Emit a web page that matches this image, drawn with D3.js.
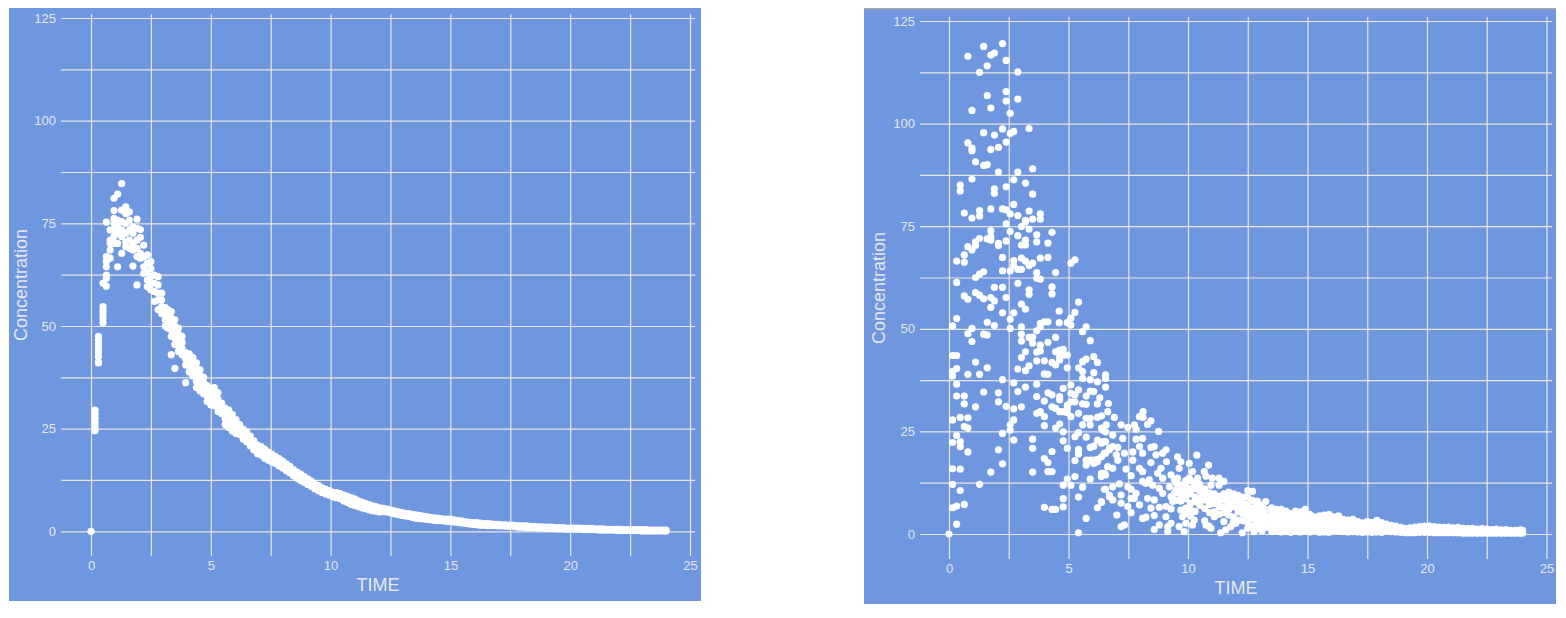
<!DOCTYPE html>
<html><head><meta charset="utf-8">
<style>html,body{margin:0;padding:0;background:#fff}svg{display:block}text{font-family:"Liberation Sans",Arial,sans-serif}</style>
<script src="https://cdn.jsdelivr.net/npm/d3@7"></script></head><body>
<script>
const xGrid=[0,2.5,5,7.5,10,12.5,15,17.5,20,22.5,25];
const yGrid=[0,12.5,25,37.5,50,62.5,75,87.5,100,112.5,125];
const xTitle="TIME", yTitle="Concentration";

// left panel: [time, concentrations read at that time]
const leftColumns=[[0,[0]],[.17,[29.5,28.5,27.5,26.5,25.5,24.5]],[.31,[47.5,46.5,45.5,44.5,43.5,42.5,41.2,41]],
[.5,[60.4,54.7,53.8,53,52,50.8]],[.64,[75.3,66.9,65.7,64.4,62.4,61.6,59.7]],[.8,[73.4,70.9,70.1,68.5,66.5]],
[.96,[81.1,78.1,76.2,75,73.4,71.8,70.1]],[1.11,[82.1,75.8,74.2,72.6,70.1,64.4]],[1.28,[84.7,78.2,75.4,73.4,71.8,67.7]],
[1.45,[79,77.4,75,72.6,70.5,69.3]],[1.6,[77.8,75.8,73.4,70.9,68.9]],[1.75,[74.2,72.6,70.1,68.5,64.6]],
[1.92,[76,73.8,70.9,68.9,66.9,60]],[2.06,[73.5,71.6,67.7,66.5]],[2.2,[69.7,66.9,64.4,62.8]],[2.35,[67.3,65.3,63.2,61.2,59.6]],
[2.5,[65.7,64,62,60.4,58.8]],[2.65,[62.4,60.4,58.4,56]],[2.8,[62,60,58,56.3,54]],[2.95,[58,56.3,54.7,53]],[3.1,[54.5,53,51.5,50]],
[3.2,[54,52.5,51,49.5]],[3.35,[53.5,52,50.5,49,47.5,43]],[3.5,[51.5,50,48.5,47,45.5,39.7]],[3.65,[49.5,48,46.5,45,43.8]],
[3.8,[47.5,46,44.5,43]],[3.95,[43.5,42,40.5,36.2]],[4.1,[43.2,41.8,40.2,38.8]],[4.25,[42.3,40.8,39.3,37.8]],[4.4,[41,39.5,38,36.5,35]],
[4.55,[39.4,38,36.5,35.1,34.2]],[4.7,[37.5,36.2,34.8,33.5]],[4.85,[35.5,34.2,32.9,31.6]],[5,[34.8,33.4,32,30.8]],[5.15,[35,33.5,32,30.6]],
[5.3,[33.8,32.2,30.6,29.2]],[5.45,[31.2,29.9,28.6]],[5.6,[30,28.7,27.4,26]],[5.75,[29.5,28,26.6,25.3]],[5.9,[28.4,27,25.6,24.4]],
[6.05,[27.2,25.9,24.6,23.8]],[6.2,[26,24.8,23.6]],[6.35,[24.9,23.7,22.5]],[6.5,[24.2,23,21.8]],[6.65,[23.2,22,20.8]],[6.8,[22,20.9,19.8]],
[6.95,[21,19.9,18.9]],[7.1,[20.6,19.6,18.6]],[7.25,[20,18.9,17.8]],[7.4,[19.3,18.3,17.3]],[7.55,[18.8,17.8,16.9]],[7.7,[18.2,17.3,16.5]],
[7.85,[17.7,16.8,15.9]],[8,[17.1,16.3,15.4]],[8.15,[16.4,15.6,14.8]],[8.3,[15.8,15,14.2]],[8.45,[15,14.2,13.5]],[8.6,[14.4,13.6,12.9]],
[8.75,[13.9,13.1,12.4]],[8.9,[13.3,12.6,11.9]],[9.05,[12.8,12,11.4]],[9.2,[12.2,11.5,10.9]],[9.35,[11.5,10.9,10.3]],[9.5,[11.1,10.5,9.9]],
[9.65,[10.6,10,9.4]],[9.8,[10.2,9.7,9.1]],[9.95,[9.9,9.4,8.8]],[10.1,[9.5,9,8.4]],[10.25,[9.4,8.8,8.2]],[10.4,[9.2,8.5,7.9]],[10.55,[8.8,8.1,7.4]],
[10.7,[8.5,7.7,7]],[10.85,[8.2,7.4,6.6]],[11,[7.9,7.1,6.3]],[11.15,[7.4,6.7,6]],[11.3,[7.1,6.4,5.7]],[11.45,[6.8,6.1,5.5]],[11.6,[6.5,5.8,5.2]],
[11.75,[6.2,5.6,5]],[11.9,[6,5.4,4.9]],[12.05,[5.7,5.2,4.7]],[12.2,[5.6,4.8]],[12.35,[5.4,4.7]],[12.5,[5.2,4.5]],[12.65,[5,4.3]],[12.8,[4.8,4.1]],
[12.95,[4.6,3.9]],[13.1,[4.4,3.7]],[13.25,[4.3,3.6]],[13.4,[4.1,3.4]],[13.55,[4,3.2]],[13.7,[3.9,3.1]],[13.85,[3.7,3]],[14,[3.6,2.9]],[14.15,[3.4,2.8]],
[14.3,[3.3,2.7]],[14.45,[3.2,2.6]],[14.6,[3.1,2.6]],[14.75,[3,2.5]],[14.9,[3,2.4]],[15.05,[2.9,2.3]],[15.2,[2.7,2.2]],[15.35,[2.6,2.1]],[15.5,[2.5,2]],
[15.65,[2.3,1.9]],[15.8,[2.2,1.8]],[15.95,[2.1,1.7]],[16.1,[2.1,1.6]],[16.25,[2,1.5]],[16.4,[1.9,1.5]],[16.55,[1.9,1.4]],[16.7,[1.8,1.4]],[16.85,[1.7,1.4]],
[17,[1.7,1.3]],[17.15,[1.6,1.3]],[17.3,[1.6,1.2]],[17.45,[1.5,1.2]],[17.6,[1.5,1.2]],[17.75,[1.4,1.1]],[17.9,[1.3,1]],[18.05,[1.3,1]],[18.2,[1.3,.9]],
[18.35,[1.2,.9]],[18.5,[1.2,.9]],[18.65,[1.1,.8]],[18.8,[1.1,.8]],[18.95,[1,.7]],[19.1,[1,.7]],[19.25,[1,.7]],[19.4,[.9,.6]],[19.55,[.9,.6]],[19.7,[.9,.6]],
[19.85,[.8,.5]],[20,[.8,.5]],[20.15,[.8,.5]],[20.3,[.8,.5]],[20.45,[.8,.5]],[20.6,[.7,.4]],[20.75,[.7,.4]],[20.9,[.7,.4]],[21.05,[.6,.4]],[21.2,[.6,.3]],
[21.35,[.6,.3]],[21.5,[.5,.3]],[21.65,[.5,.3]],[21.8,[.5,.3]],[21.95,[.5,.2]],[22.1,[.5,.2]],[22.25,[.4,.2]],[22.4,[.4,.2]],[22.55,[.4,.2]],[22.7,[.4,.2]],
[22.85,[.4,.2]],[23,[.4,.1]],[23.15,[.4,.1]],[23.3,[.3,.1]],[23.45,[.3,.1]],[23.6,[.3,.1]],[23.75,[.3,.1]],[23.9,[.3,.1]],[24,[.3,.1]]];

// right panel: individually read points, [time, concentration]
const rightScatter=[[0,0],[2.24,119.5],[1.45,118.8],[1.9,117.2],[1.75,116.7],[.79,116.4],[2.39,115.4],[1.6,114.1],[1.28,112.5],[2.88,112.6],[2.39,107.8],[1.6,106.8],[2.39,105.5],[2.88,106],[1.75,103.8],[.96,103.2],[2.56,102.5],[2.24,98.7],[3.35,98.8],[2.71,98.1],[2.56,97.6],[1.45,97.8],[1.9,97.2],[.79,95.3],[2.39,95.5],[.96,94],[.96,93.4],[2.07,94.2],[1.75,93.7],[1.11,90.7],[1.45,89.8],[1.6,90],[2.07,88.2],[2.88,88.2],[3.5,89],[.96,86.5],[2.71,86.3],[3.2,85.5],[2.39,84.6],[.47,85],[.47,83.6],[1.9,84.1],[1.9,83],[3.5,82.8],[2.71,80.3],[1.75,79.2],[2.24,79.2],[2.39,79],[1.28,78.8],[1.28,77.5],[.64,78.2],[2.56,78],[2.88,77.6],[3.35,78.7],[3.82,78],[.96,77],[3.5,76.7],[3.2,76.4],[3.82,76.7],
[2.39,75.6],[2.56,73.7],[3.2,76],[3.03,74.9],[3.35,74.3],[4.31,73.5],[2.88,72.7],[3.67,72.9],[1.75,73.9],[1.75,72.5],[1.6,71.9],[1.28,72],[1.11,71.2],[1.11,70.3],[.79,70],[.96,69.2],[.64,68],[.32,66.5],[.64,66.2],[1.75,71.6],[2.07,70.8],[2.07,70.3],[2.39,71.4],[3.2,71.6],[3.2,70.4],[3.03,70.4],[3.67,71.2],[4.14,70.9],[2.24,67.4],[3.03,67.2],[3.2,66.5],[2.71,66.6],[3.82,67.2],[4.14,67.4],[3.5,66],[3.35,65.4],[2.71,65.4],[2.88,64.5],[3.03,64.5],[2.56,64.1],[2.24,64.1],[5.27,66.8],[5.1,66],[1.45,63.9],[1.28,63.3],[1.11,62.5],[3.67,63.7],[4.46,63.7],[3.67,62.3],[3.82,62.1],[.32,61.3],[2.88,61.1],[1.9,60.1],[2.24,60.1],[4.31,60.2],[4.31,58.5],[3.35,59.5],[3.35,58.4],[1.11,58.8],[1.28,58.2],[1.45,57.3],[.64,58],[.79,57.2],[1.75,57.6],[1.9,56.8],[1.75,55.2],[2.39,57.6],[3.03,56],[3.2,54.8],[5.42,56.5],[4.61,54.3],[5.27,54],[2.24,53.9],[2.71,53.9],[.32,52.5],[2.56,52.3],[1.6,51.6],[1.9,50.8],[.15,50.7],[.96,50.1],[2.56,50.1],[3.03,50.5],[3.82,51.3],[3.99,51.7],[4.14,51.7],[4.61,51.5],[5.1,52.6],[4.95,51.5],[5.1,50.9],[3.67,49.5],[3.82,50.5],[5.74,50.5],[5.59,49.3],[.79,48.8],[1.45,48.7],[1.6,48.5],[3.03,48.7],[3.03,47],[3.35,47.9],[3.5,48],[3.5,46.5],[4.46,47.9],[4.14,46.7],[.96,46.9],[5.91,47.1],[3.82,46],[3.82,44.6],[3.67,44.3],[3.2,44.4],[3.03,43],[4.46,44.4],[4.63,44.8],[4.78,45],[4.63,43.2],[4.78,43.6],[4.95,43.6],[4.63,42.4],[.32,43.5],[.15,43.5],[1.11,41.9],[3.67,42.2],[3.99,42.2],[4.31,41.8],[4.46,41.2],[5.74,42.6],[5.59,42],[6.06,43.2],[6.21,41.8],[3.35,41],[3.2,39.8],[2.88,40.2],[1.6,40.5],[.32,40.3],[.15,39.6],[.15,38.5],[.79,38.9],[1.28,38.9],[4.95,40.5],[5.42,40.5],[5.59,39.6],[5.59,37.9],[3.99,39],[4.14,38.9],[6.06,39.3],[6.55,38.8],[6.55,37.9],[2.24,37.6],[5.91,37.6],[6.21,37.1],[.32,36.5],[2.71,36.8],[3.67,36.5],[3.2,35.8],[5.1,36.3],[4.78,35.5],[6.55,35.8],[1.45,34.6],[2.88,34.7],[2.07,34.4],[4.14,34.4],[4.31,33.9],[5.42,35.1],[5.1,34.3],[5.27,33.9],[5.91,34.8],[6.06,34.7],[.32,33.6],[.64,33.6],[3.67,33.5],[4.63,33.5],[4.63,32.7],[5.74,33.6],[6.31,33.2],[6.21,31.7],[2.07,32.2],[3.99,32.4],[.64,31.7],[5.1,32.2],[5.27,32.2],[4.95,31.4],[5.59,31.7],[5.74,31.6],[6.67,31.8],[1.11,31],[2.39,31.1],[2.71,30.5],[3.03,31],[4.31,31],[4.46,30.6],[4.95,30.6],[4.78,29.8],[3.82,29.8],
[.47,28.4],[.79,28.3],[.15,27.8],[2.71,27.8],[2.56,26.6],[2.56,25.3],[.64,26.2],[.79,25.8],[2.24,24.5],[.32,24],[2.71,22.9],[.15,22.3],[.47,22.5],[.47,21.3],[.79,20],[2.07,20.5],[2.24,17.1],[.15,15.9],[.47,15.8],[1.75,15.1],[1.28,12.1],[.15,12.1],[.47,10.6],[.64,7.2],[.32,6.8],[.15,6.4],[.32,2.4],[3.5,23.1],[3.5,20.9],[3.5,15.1],[3.99,26.4],[3.99,28.6],[3.67,29.4],[3.82,29.6],[4.46,25.8],[4.63,26.8],[4.78,24.9],[4.78,22.7],[4.95,20.9],[4.31,20.1],[3.99,18.4],[4.14,17.4],[4.14,15.2],[4.31,15.2],[5.27,14],[4.95,13.4],[4.78,11.9],[5.1,11.9],[5.59,11.4],[4.78,8.6],[5.42,9],[3.99,6.5],[4.31,6],[4.46,6],[4.78,6.6],[5.74,3.8],[5.42,.3],[6.21,6.4],[6.38,7.7],[5.91,13.4],[6.55,10.9],[6.71,9.1],[5.27,23.7],[5.42,24.7],[5.59,26.6],[5.74,23.6],[5.42,20.6],[5.42,19.5],[5.27,17.9],[5.74,18],[5.74,16.8],[5.91,21.1],[6.06,21.4],[5.91,18],[6.06,18],[6.21,18.2],[6.38,18.8],[6.06,17.2],[6.21,17.6],[6.38,14.8],[6.55,14.4],[6.55,19.7],[6.71,20.5],[6.21,22.9],[6.38,22.1],[6.55,22.5],[5.74,28.2],[5.91,28.2],[5.91,26.6],[6.21,28.4],[6.38,28.8],[6.38,25.8],[6.55,24.9],[5.42,29.4],[5.1,28.6],[4.63,29.8],[4.95,29.6],
[8.77,25],[8.12,29.8],[7.97,28.6],[8.12,28.4],[8.45,27.6],[8.31,26.7],[6.64,29.8],[6.92,28.4],[6.58,26.6],[7.2,26.6],[7.48,26],[7.76,26.6],[7.83,25.5],[6.44,25.3],[6.85,24.1],[7.27,23.3],[8.1,23.3],[7.83,23.1],[7.97,21.3],[6.44,22.5],[6.85,21.3],[7.06,21.1],[6.71,20.9],[8.45,21.1],[8.59,21.3],[9.08,20.5],[8.94,19.7],[8.66,19.3],[7.34,19.7],[7.69,20],[8.1,19.7],[6.5,19.7],[7,19.3],[7.06,18],[7.69,18],[8.45,17.4],[9.1,17.6],[9.56,18.8],[9.7,17.6],[10.05,17.2],[10.37,19.2],[10.86,16.8],[6.64,16.4],[6.85,16],[7.41,15.8],[7.97,16],[8.1,15.2],[8.87,16],[6.5,14.8],[6.37,14],[7.62,14.2],[9.63,16],[10.19,15.2],[10.68,15.2],[10.75,14.1],[8.73,14.8],[9.29,14.4],[9.56,13.6],[8.38,13.2],[8.1,12.8],[8.94,13.6],[11.3,13.6],[11.5,12.8],[11.02,13.6],[10.96,11.9],[11.3,11.9],[10.4,13.6],[10.47,12.2],[10.05,13.6],[9.43,13.2],[9.22,11.5],[7.13,12.2],[6.85,11.5],[6.5,10.9],[7.48,11.5],[7.62,10.9],[7.83,9.9],[8.52,11.9],[8.24,12.3],[8.8,11.1],[8.94,9.9],[9.77,10.7],[10.05,10.3],[10.26,11.9],[10.6,9.9],[9.43,9.9],[9.29,9.1],[9.36,7.9],[6.71,9.5],[6.85,8.3],[7.2,9.5],[7.2,7.5],[7.62,8.7],[7.76,8.7],[8.31,8.7],[8.59,8.3],[6.37,7.9],[7.97,7.1],[7.48,6.7],[7.62,5.2],[8.8,6.5],[9.08,6.7],[8.45,6.3],[9.29,6.1],[9.91,6.3],[9.77,4.2],[9.91,5],[7.02,4.6],[8.59,4.5],[8.24,4.1],[8.1,3.8],[9.08,4.2],[9.29,2.6],[9.15,1.8],[7.2,1.8],[7.34,2.2],[8.8,2.2],[8.59,1.1],[9.15,.6],[9.63,1.8],[9.91,2.6],[9.84,.6],[10.26,3.4],[10.19,2.2],[10.75,2.2],[10.96,1.4],[10.88,1.9],[11.37,.3],[11.58,1],[11.79,1.8],[12,2.6],[12.27,.3],[12.76,.6]];

// right panel: dense part, [time, concentrations read at that time]
const rightColumns=[[9.5,[12.5,10.8,8.2]],[9.7,[12,9.5,8,5.8]],[9.9,[13,11.5,10.2,8.6]],[10.1,[13,11,9.8,7.5,6,4.4]],[10.3,[12.5,11,9,7.8,5.5]],[10.5,[11.8,10.5,8.6,7]],[10.7,[11,9.6,8.3,6.2,3.2]],[10.9,[10,8.7,7.2,5.2]],[11.1,[9.8,8.6,7.4,5.4,4.2]],[11.3,[9.2,7.8,6.6,4.8]],[11.5,[9.8,8.4,6.6,5.2,3]],[11.7,[10.2,8.8,7.4,6,4.6]],[11.9,[9.8,8.2,6.6,4.2,3]],[12.1,[9.4,8,6.8,5.4,3.4]],[12.3,[9,7.6,6.2,4.8,3.2]],[12.5,[10.6,9,7.2,5.8,4.4,2.8,1.4]],[12.7,[10.4,8.2,6.4,5.2,3.8,2]],[12.9,[8,6.8,5.4,4,2.6,1.2]],[13.1,[7,5.8,4.6,3.2,1.8,.8]],[13.25,[7.9,6,4.4,3,1.6]],[13.5,[6.4,5,3.8,2.6,1.2,.6]],[13.7,[6,4.8,3.4,2,.7]],[13.9,[6,4.6,3.2,1.8,.5]],[14.1,[5.6,4.2,3,1.6,.6]],[14.3,[5,3.8,2.5,1.2,.4]],[14.5,[5.6,4.4,3,1.8,.7]],[14.7,[5.4,4,2.8,1.4,.5]],[14.9,[6,4.6,3.2,1.8,.8]],[15.1,[4.8,3.4,2.2,1,.5]],[15.3,[4.2,3,1.9,.9]],[15.5,[4.4,3.2,2,1,.4]],[15.7,[4.6,3.4,2.2,1.1,.5]],[15.9,[4.8,3.6,2.4,1.2,.4]],[16.1,[4.2,3,1.8,.8]],[16.3,[4.4,3,1.9,.7]],[16.5,[3.6,2.6,1.5,.6]],[16.7,[3.4,2.4,1.4,.5]],[16.9,[3.6,2.5,1.5,.6]],[17.1,[3,2.1,1.2,.5]],[17.3,[2.7,1.9,1.1,.4]],[17.5,[3,2,1.1,.5]],[17.7,[2.8,1.9,1.1,.4]],[17.9,[3.3,2.2,1.2,.5]],[18.1,[2.8,1.8,.9,.4]],[18.3,[2.4,1.6,.8]],[18.5,[2.1,1.3,.6]],[18.7,[1.9,1.2,.5]],[18.9,[1.6,1,.4]],[19.1,[1.4,.9,.3]],[19.3,[1.5,.9,.3]],[19.5,[1.7,1,.3]],[19.7,[1.8,1,.4]],[19.9,[1.9,1.1,.4]],[20.1,[1.9,1.1,.4]],[20.3,[1.8,1,.3]],[20.5,[1.7,.9,.3]],[20.7,[1.6,.9,.3]],[20.9,[1.7,.9,.3]],[21.1,[1.5,.8,.3]],[21.3,[1.6,.9,.3]],[21.5,[1.4,.8,.2]],[21.7,[1.3,.7,.2]],[21.9,[1.4,.8,.2]],[22.1,[1.2,.7,.2]],[22.3,[1.3,.7,.2]],[22.5,[1.2,.6,.2]],[22.7,[1.1,.6,.2]],[22.9,[1.2,.6,.2]],[23.1,[1,.5,.2]],[23.3,[1.1,.5,.2]],[23.5,[.9,.5,.2]],[23.7,[.9,.5,.2]],[23.9,[1,.5,.2]],[24,[.9,.4,.2]]];

const expand=cols=>cols.flatMap(([t,cs])=>cs.map(c=>[t,c]));
const panels=[
 {pts:expand(leftColumns),bg:[9,8,692,593],x:[91,690],y:[531.3,18],gx:[61,695],gy:[14,556],labelX:378,labelY:591,yLabelX:27,yLabelY:285,r:3.6},
 {pts:rightScatter.concat(expand(rightColumns)),bg:[864,9,692,595],x:[949,1546.5],y:[534,21],gx:[920,1552],gy:[17,559],labelX:1236,labelY:594,yLabelX:885,yLabelY:288,r:3.6,topRule:true}
];
const svg=d3.select("body").append("svg").attr("width",1566).attr("height",618);
const GRID="#e9e6df", TXT="#e6e6e6";
panels.forEach(p=>{
 const g=svg.append("g");
 g.append("rect").attr("x",p.bg[0]).attr("y",p.bg[1]).attr("width",p.bg[2]).attr("height",p.bg[3]).attr("fill","#6f97e0");
 if(p.topRule) g.append("rect").attr("x",p.bg[0]).attr("y",p.bg[1]-1).attr("width",p.bg[2]).attr("height",1.5).attr("fill","#a9a9a9");
 const x=d3.scaleLinear().domain([0,25]).range(p.x);
 const y=d3.scaleLinear().domain([0,125]).range(p.y);
 const ax=g.append("g").attr("transform",`translate(0,${p.gy[1]})`)
   .call(d3.axisBottom(x).tickValues(xGrid).tickSize(-(p.gy[1]-p.gy[0])).tickPadding(0).tickFormat(v=>v%5===0?v:""));
 const ay=g.append("g").attr("transform",`translate(${p.gx[0]},0)`)
   .call(d3.axisLeft(y).tickValues(yGrid).tickSize(-(p.gx[1]-p.gx[0])).tickPadding(5).tickFormat(v=>v%25===0?v:""));
 [ax,ay].forEach(a=>{a.select(".domain").remove();
   a.selectAll("line").attr("stroke",GRID).attr("stroke-width",1.2);
   a.selectAll("text").attr("fill",TXT).attr("font-size",13).attr("font-family",'"Liberation Sans",Arial,sans-serif');});
 ax.selectAll("text").attr("y",5).attr("dy","0.71em");
 g.append("g").selectAll("circle").data(p.pts).join("circle")
   .attr("cx",d=>x(d[0])).attr("cy",d=>y(d[1])).attr("r",p.r).attr("fill","#fff");
 g.append("text").attr("x",p.labelX).attr("y",p.labelY).attr("text-anchor","middle").attr("font-size",18).attr("fill",TXT).text(xTitle);
 g.append("text").attr("transform",`translate(${p.yLabelX},${p.yLabelY}) rotate(-90)`).attr("text-anchor","middle").attr("font-size",18).attr("fill",TXT).text(yTitle);
});
</script></body></html>
